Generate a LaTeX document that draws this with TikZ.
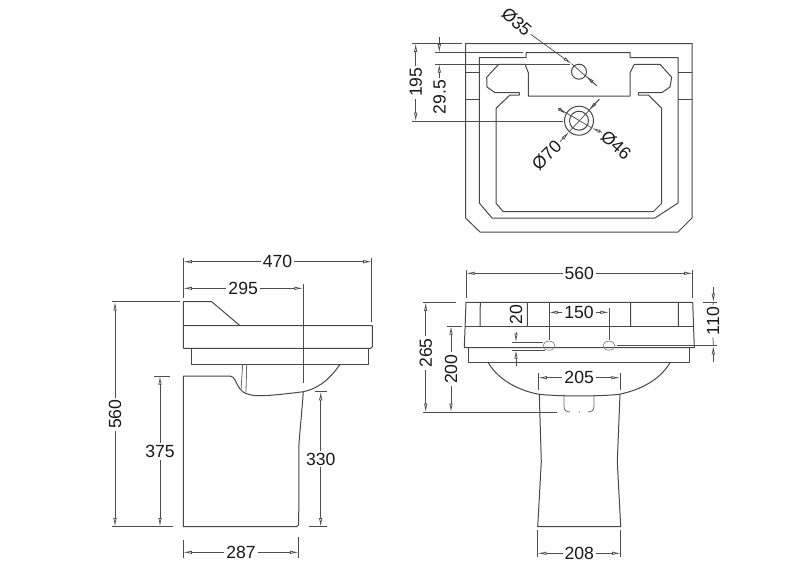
\documentclass[tikz,border=0pt]{standalone}
\usepackage{fontspec}
\setmainfont{Liberation Sans}
\usetikzlibrary{arrows.meta}
\begin{document}
\begin{tikzpicture}[x=0.75pt,y=-0.75pt,
    ware/.style={draw=black!72,line width=0.75pt,line join=round},
    thin ware/.style={draw=black!60,line width=0.6pt},
    ext/.style={draw=black!70,line width=0.55pt},
    dim/.style={draw=black!70,line width=0.55pt,arrows={Latex[open,length=6.5pt,width=2.6pt]-Latex[open,length=6.5pt,width=2.6pt]}},
    lead/.style={draw=black!70,line width=0.55pt,arrows={-Latex[open,length=6.5pt,width=2.6pt]}},
    label/.style={font=\fontsize{13.2pt}{14pt}\selectfont,text=black!90,inner sep=1.5pt,fill=white}]
    \useasboundingbox (0,0) rectangle (800,565);
    % plan view
    \draw[ware] (465.5,43.5) -- (692,43.5) -- (692,218) -- (678,232) -- (480,232) -- (465.5,218) -- cycle;
    \draw[ware] (479.3,57.5) -- (526,57.5) -- (526,52.7) -- (630,52.7) -- (630,57.5) -- (678,57.5) -- (678,203) -- (655,218) -- (492,218) -- (479.3,203) -- cycle;
    \draw[ware] (465.5,72.7) -- (479.3,72.7) (465.5,99.3) -- (479.3,99.3) (678,72.7) -- (692,72.7) (678,99.3) -- (692,99.3);
    \draw[ware] (528.3,96) -- (528.3,72.7) -- (525,64.3) -- (498.7,64.3) -- (486.7,77.3) -- (487,87) -- (495,92.7) -- (519.3,92.7) -- (519.3,95) -- (510,95) -- (496,108.3) -- (496,203.3) -- (503.3,211.7) -- (653.3,211.7) -- (661.7,203.3) -- (661.7,108.3) -- (648.3,95) -- (638.3,95) -- (638.3,92.7) -- (661.7,92.7) -- (670,87) -- (671.7,77.3) -- (660,64.3) -- (634.3,64.3) -- (630,72.7) -- (630,96) -- cycle;
    \draw[ware] (579,71.7) circle (7.5) (579,120.7) circle (14.5) (579,120.7) circle (9.5);
    % plan view dimensions
    \draw[ext] (412,43.3) -- (462,43.3) (412,121.3) -- (563,121.3);
    \draw[ext] (435,52.7) -- (523,52.7) (435,64) -- (570,64);
    \draw[dim] (415.7,43.3) -- node[label,rotate=90] (dimA) {195} (415.7,121.3);
    \coordinate (tipB) at (439.3,36.7);
    \coordinate (tipC) at (439.3,82);
    \draw[lead] (tipB) -- (439.3,52.7);
    \draw[lead] (tipC) -- (439.3,64);
    \node[label,rotate=90] (dimB) at (439.5,97) {29.5};
    \node[label,rotate=-42] (dimC) at (516.7,21.7) {Ø35};
    \node[label,rotate=-42] (dimD) at (616,145) {Ø46};
    \node[label,rotate=45] (dimE) at (546.7,155) {Ø70};
    \draw[lead] (dimC.east) -- (571.5,63.7);
    \draw[ext] (571.5,63.7) -- (596.7,85.7);
    \draw[lead] (596.7,85.7) -- (586,76);
    \draw[lead] (dimE.east) -- (569,132);
    \draw[ext] (569,132) -- (599.3,99.3);
    \draw[lead] (599.3,99.3) -- (589,110);
    \draw[lead] (dimD.west) -- (592,128);
    \draw[ext] (592,128) -- (558.3,108.3);
    \draw[lead] (558.3,108.3) -- (566,114);
    % side view
    \draw[ware] (183.3,348.3) -- (183.3,301.7) -- (211.7,301.7) -- (240,325.7);
    \draw[ware] (183.3,325.7) -- (372.3,325.7) -- (372.3,346.8) -- (370.8,348.3) -- (183.3,348.3);
    \draw[ware] (191.7,348.3) -- (191.7,364.3) -- (368.3,364.3) -- (368.3,348.3);
    \draw[ware] (340,364.3) .. controls (328,382) and (316,389) .. (303.3,391.7) .. controls (285,394) and (268,396) .. (256.7,395.7) .. controls (248,395) and (243,393) .. (240,389) .. controls (236,384) and (235,376) .. (230,376) -- (183.3,376) -- (183.3,526.7) -- (296.7,526.7) -- (298.7,524.5) -- (299,443) -- (302.7,400) -- (303.3,391.7);
    \draw[thin ware] (242.7,364.3) -- (241,390) (246.7,364.3) -- (246,392);
    % side view dimensions
    \draw[ext] (183.3,258) -- (183.3,297.7) (371.7,258) -- (371.7,322);
    \draw[ext] (303,284) -- (303,383);
    \draw[ext] (111.7,301.7) -- (180,301.7) (111.7,526.7) -- (173.3,526.7);
    \draw[ext] (154,376) -- (170,376) (315,391.7) -- (326.7,391.7) (309,526.7) -- (326.7,526.7);
    \draw[ext] (183.3,540) -- (183.3,558) (298.7,536.7) -- (298.7,558);
    \draw[dim] (183.3,261.7) -- node[label] (dimF) {470} (371.7,261.7);
    \draw[dim] (183.3,288.3) -- node[label] (dimG) {295} (303,288.3);
    \draw[dim] (115,301.7) -- node[label,rotate=90] (dimH) {560} (115,526.7);
    \draw[dim] (160,376) -- node[label] (dimI) {375} (160,526.7);
    \draw[dim] (320.7,391.7) -- node[label] (dimJ) {330} (320.7,526.7);
    \draw[dim] (183.3,552.3) -- node[label] (dimK) {287} (298.7,552.3);
    % front view
    \draw[ware] (466,302.3) -- (692.7,302.3) -- (694.3,347.7) -- (464.3,347.7) -- cycle;
    \draw[ware] (465,326) -- (693.3,326);
    \draw[ware] (480.3,302.3) -- (480,326) (527.3,302.3) -- (527.3,326) (630.7,302.3) -- (630.7,326) (678.3,302.3) -- (678.3,326);
    \draw[ware] (468.3,347.7) -- (468.3,362.7) -- (689.3,362.7) -- (689.3,347.7);
    \draw[ware] (488.3,362.7) .. controls (500,383) and (525,392) .. (539.3,394.3) .. controls (560,396.5) and (600,396.5) .. (619.3,394.3) .. controls (640,390) and (660,380) .. (670,362.7);
    \draw[ware] (539.3,394.3) -- (541.3,461.7) -- (537.7,526.7) -- (620.7,526.7) -- (617.3,461.7) -- (620,394.3);
    \draw[thin ware] (564,394.5) -- (564,406) .. controls (564,410) and (566,412) .. (570,412);
    \draw[thin ware] (594,394.5) -- (594,406) .. controls (594,410) and (592,412) .. (588,412);
    \fill[black!60] (579.3,412) circle (0.7);
    \draw[draw=black!45,line width=0.55pt] (549,345.7) ellipse (6 and 4.5) (609,345.7) ellipse (6 and 4.5);
    % front view dimensions
    \draw[ext] (466,270) -- (466,298) (692.7,270) -- (692.7,298);
    \draw[ext] (538.3,373) -- (538.3,390) (620,373) -- (620,390);
    \draw[ext] (537.7,530) -- (537.7,556.7) (620.7,530) -- (620.7,556.7);
    \draw[ext] (549,302.3) -- (549,340) (609,308.3) -- (609,340);
    \draw[ext] (422.7,302.3) -- (456,302.3) (422.7,412.3) -- (556.7,412.3) (447.3,326) -- (461.7,326);
    \draw[ext] (511.7,342.3) -- (543.3,342.3) (511.7,350) -- (545,350);
    \draw[ext] (703.3,302.3) -- (717.3,302.3) (616.7,345.7) -- (717.3,345.7);
    \draw[dim] (466,273.3) -- node[label] (dimL) {560} (692.7,273.3);
    \draw[dim] (538.3,377.7) -- node[label] (dimM) {205} (620,377.7);
    \draw[dim] (537.7,553.3) -- node[label] (dimN) {208} (620.7,553.3);
    \draw[dim] (549,312.3) -- node[label] (dimO) {150} (609,312.3);
    \draw[dim] (425.7,302.3) -- node[label,rotate=90,pos=0.46] (dimP) {265} (425.7,412.3);
    \draw[dim] (451,326) -- node[label,rotate=90] (dimQ) {200} (451,412.3);
    \node[label,rotate=90] (dimR) at (516,314.3) {20};
    \coordinate (tipS) at (516,332);
    \coordinate (tipT) at (516,365.7);
    \draw[lead] (tipS) -- (516,342.3);
    \draw[lead] (tipT) -- (516,350);
    \node[label,rotate=90] (dimU) at (713,321) {110};
    \coordinate (tipV) at (713.3,286.7);
    \coordinate (tipW) at (713.3,361.7);
    \draw[lead] (tipV) -- (713.3,302.3);
    \draw[lead] (tipW) -- (713.3,345.7);
    \draw[ext] (713.3,302.3) -- (dimU.east) (dimU.west) -- (713.3,345.7);
\end{tikzpicture}
\end{document}
